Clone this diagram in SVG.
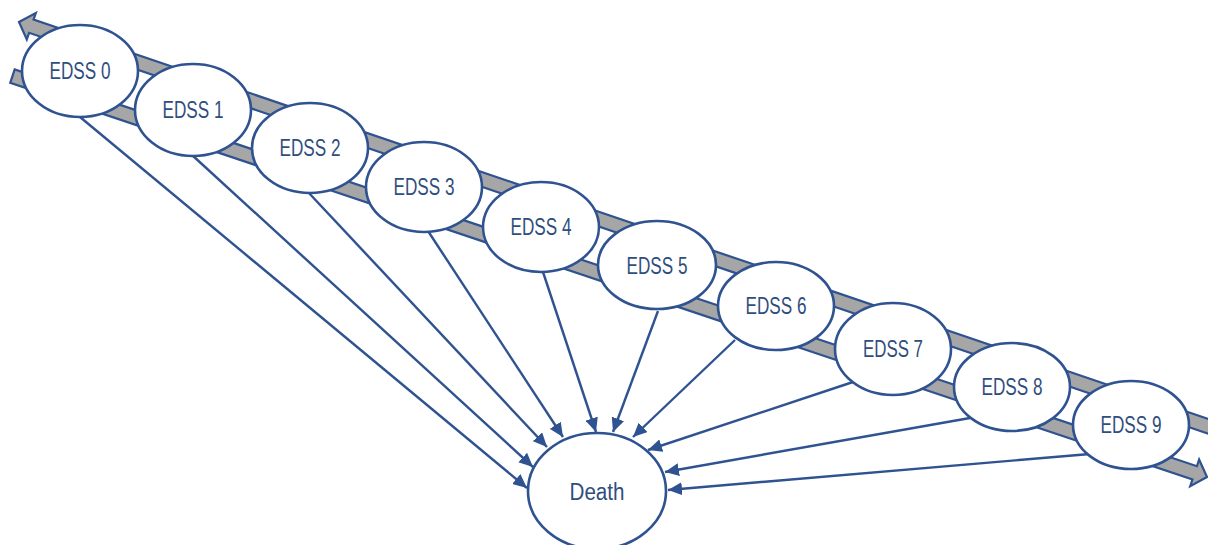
<svg xmlns="http://www.w3.org/2000/svg" width="1208" height="545" viewBox="0 0 1208 545">
<defs>
<style>
.band{fill:#A6A6A6;stroke:#2F5290;stroke-width:2.2;stroke-linejoin:miter}
.node ellipse{fill:#FFFFFF;stroke:#2F5290;stroke-width:2.6}
.node text{font-family:"Liberation Sans",Arial,sans-serif;font-size:23px;fill:#2F4E7E;text-anchor:middle}
.conn line{stroke:#2F5290;stroke-width:2.4;marker-end:url(#ah)}
</style>
<marker id="ah" markerUnits="userSpaceOnUse" markerWidth="15" markerHeight="13" refX="14" refY="6.5" orient="auto">
<path d="M0,0 L14,6.5 L0,13 Z" fill="#2F5290"/>
</marker>
</defs>
<rect width="1208" height="545" fill="#FFFFFF"/>
<g id="bands">
<polygon class="band" transform="translate(19,22) rotate(18.78)" points="0,0 13,-14 13,-7 1260,-7 1260,7 13,7 13,14"/>
<polygon class="band" transform="translate(1207,477) rotate(18.55)" points="0,0 -13,-14 -13,-7 -1260,-7 -1260,7 -13,7 -13,14"/>
</g>
<g id="connectors" class="conn">
<line x1="80" y1="117" x2="527" y2="488"/>
<line x1="192" y1="155" x2="533" y2="467"/>
<line x1="308" y1="192" x2="547" y2="447"/>
<line x1="428" y1="231" x2="563" y2="437"/>
<line x1="543" y1="272" x2="596" y2="432"/>
<line x1="658" y1="311" x2="613" y2="432"/>
<line x1="735" y1="340" x2="633" y2="437"/>
<line x1="853" y1="382" x2="648" y2="450"/>
<line x1="970" y1="418" x2="665" y2="472"/>
<line x1="1090" y1="454" x2="668" y2="490"/>
</g>
<g id="n0" class="node"><ellipse cx="80" cy="71" rx="58" ry="46"/><text x="80" y="79" textLength="61" lengthAdjust="spacingAndGlyphs">EDSS 0</text></g>
<g id="n1" class="node"><ellipse cx="193" cy="110" rx="58" ry="46"/><text x="193" y="118" textLength="61" lengthAdjust="spacingAndGlyphs">EDSS 1</text></g>
<g id="n2" class="node"><ellipse cx="310" cy="148" rx="58" ry="45"/><text x="310" y="156" textLength="61" lengthAdjust="spacingAndGlyphs">EDSS 2</text></g>
<g id="n3" class="node"><ellipse cx="424" cy="187" rx="58" ry="45"/><text x="424" y="195" textLength="61" lengthAdjust="spacingAndGlyphs">EDSS 3</text></g>
<g id="n4" class="node"><ellipse cx="541" cy="227" rx="58" ry="45"/><text x="541" y="235" textLength="61" lengthAdjust="spacingAndGlyphs">EDSS 4</text></g>
<g id="n5" class="node"><ellipse cx="657" cy="265" rx="59" ry="44"/><text x="657" y="274" textLength="61" lengthAdjust="spacingAndGlyphs">EDSS 5</text></g>
<g id="n6" class="node"><ellipse cx="776" cy="306" rx="58" ry="44"/><text x="776" y="314" textLength="61" lengthAdjust="spacingAndGlyphs">EDSS 6</text></g>
<g id="n7" class="node"><ellipse cx="893" cy="349" rx="58" ry="46"/><text x="893" y="357" textLength="60" lengthAdjust="spacingAndGlyphs">EDSS 7</text></g>
<g id="n8" class="node"><ellipse cx="1012" cy="387" rx="58" ry="44"/><text x="1012" y="395" textLength="61" lengthAdjust="spacingAndGlyphs">EDSS 8</text></g>
<g id="n9" class="node"><ellipse cx="1131" cy="425" rx="58" ry="44"/><text x="1131" y="433" textLength="61" lengthAdjust="spacingAndGlyphs">EDSS 9</text></g>
<g id="death" class="node"><ellipse cx="597" cy="491" rx="69" ry="58"/><text x="597" y="500" textLength="55" lengthAdjust="spacingAndGlyphs">Death</text></g>
</svg>
